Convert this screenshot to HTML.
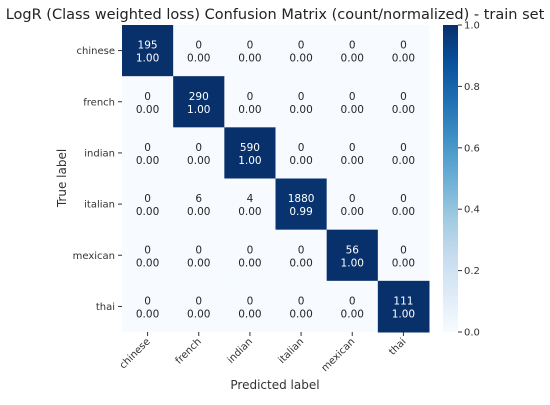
<!DOCTYPE html>
<html><head><meta charset="utf-8"><style>
body{margin:0;background:#fff;}
svg{font-family:"DejaVu Sans","Liberation Sans",sans-serif;}
</style></head><body>
<svg id="c" width="550" height="400" xmlns="http://www.w3.org/2000/svg">
<defs><linearGradient id="blues" x1="0" y1="1" x2="0" y2="0">
<stop offset="0" stop-color="#f7fbff"/><stop offset="0.125" stop-color="#deebf7"/><stop offset="0.25" stop-color="#c6dbef"/><stop offset="0.375" stop-color="#9ecae1"/><stop offset="0.5" stop-color="#6baed6"/><stop offset="0.625" stop-color="#4292c6"/><stop offset="0.75" stop-color="#2171b5"/><stop offset="0.875" stop-color="#08519c"/><stop offset="1" stop-color="#08306b"/></linearGradient></defs>
<text x="275" y="19" text-anchor="middle" font-size="14.5" fill="#222">LogR (Class weighted loss) Confusion Matrix (count/normalized) - train set</text>
<g id="cells"></g>
<rect x="443" y="25" width="15" height="307" fill="url(#blues)"/>
<g id="cbticks"></g>
<text x="275" y="389" text-anchor="middle" font-size="12" fill="#333">Predicted label</text>
<text transform="translate(66,178) rotate(-90)" text-anchor="middle" font-size="12" fill="#333">True label</text>
</svg>
<script>
const labels=["chinese","french","indian","italian","mexican","thai"];
const counts=[[195,0,0,0,0,0],[0,290,0,0,0,0],[0,0,590,0,0,0],[0,6,4,1880,0,0],[0,0,0,0,56,0],[0,0,0,0,0,111]];
const normalized=[[1,0,0,0,0,0],[0,1,0,0,0,0],[0,0,1,0,0,0],[0,0,0,0.99,0,0],[0,0,0,0,1,0],[0,0,0,0,0,1]];
const cbTicks=[0,0.2,0.4,0.6,0.8,1.0];
const NS="http://www.w3.org/2000/svg";
const X0=122,Y0=25,W=307,H=307,n=labels.length,cw=W/n,ch=H/n;
const xs=i=>X0+i*cw, ys=i=>Y0+i*ch, cbY=v=>332-v*307;
const stops=[[0,[247,251,255]],[0.125,[222,235,247]],[0.25,[198,219,239]],[0.375,[158,202,225]],[0.5,[107,174,214]],[0.625,[66,146,198]],[0.75,[33,113,181]],[0.875,[8,81,156]],[1,[8,48,107]]];
function col(v){for(let i=1;i<stops.length;i++){if(v<=stops[i][0]){const a=stops[i-1],b=stops[i],t=(v-a[0])/(b[0]-a[0]);return "rgb("+a[1].map((c,k)=>Math.round(c+(b[1][k]-c)*t)).join(",")+")";}}return "rgb(8,48,107)";}
function mk(tag,attrs,parent,txt){const e=document.createElementNS(NS,tag);for(const k in attrs)e.setAttribute(k,attrs[k]);if(txt!==undefined)e.textContent=txt;parent.appendChild(e);return e;}
const g=document.getElementById('cells'),svg=document.getElementById('c');
for(let r=0;r<n;r++){for(let c=0;c<n;c++){const v=normalized[r][c];
const rc=mk('rect',{x:xs(c),y:ys(r),width:cw+0.5,height:ch+0.5,fill:col(v)},g);


const tc=v>0.5?'#fff':'#262626';
const t=mk('text',{x:xs(c)+cw/2,y:ys(r)+ch/2-2,'text-anchor':'middle','font-size':'10.5',fill:tc},g,String(counts[r][c]));


const t2=mk('text',{x:xs(c)+cw/2,y:ys(r)+ch/2+11,'text-anchor':'middle','font-size':'10.5',fill:tc},g,v.toFixed(2));

}}
for(let i=0;i<n;i++){
const yy=ys(i)+ch/2;
mk('line',{x1:X0-4,x2:X0,y1:yy,y2:yy,stroke:'#333'},svg);
const yl=mk('text',{x:X0-7,y:yy+3.5,'text-anchor':'end','font-size':'10',fill:'#333'},svg,labels[i]);


const xx=xs(i)+cw/2;
mk('line',{x1:xx,x2:xx,y1:Y0+H,y2:Y0+H+4,stroke:'#333'},svg);
const xl=mk('text',{transform:`translate(${xx+3},${Y0+H+10}) rotate(-45)`,'text-anchor':'end','font-size':'10',fill:'#333'},svg,labels[i]);

}
const cb=document.getElementById('cbticks');
cbTicks.forEach(v=>{const y=cbY(v);mk('line',{x1:458,x2:462,y1:y,y2:y,stroke:'#333'},cb);
const t=mk('text',{x:464,y:y+3.5,'font-size':'10',fill:'#333'},cb,v.toFixed(1));

});
</script>
</body></html>
